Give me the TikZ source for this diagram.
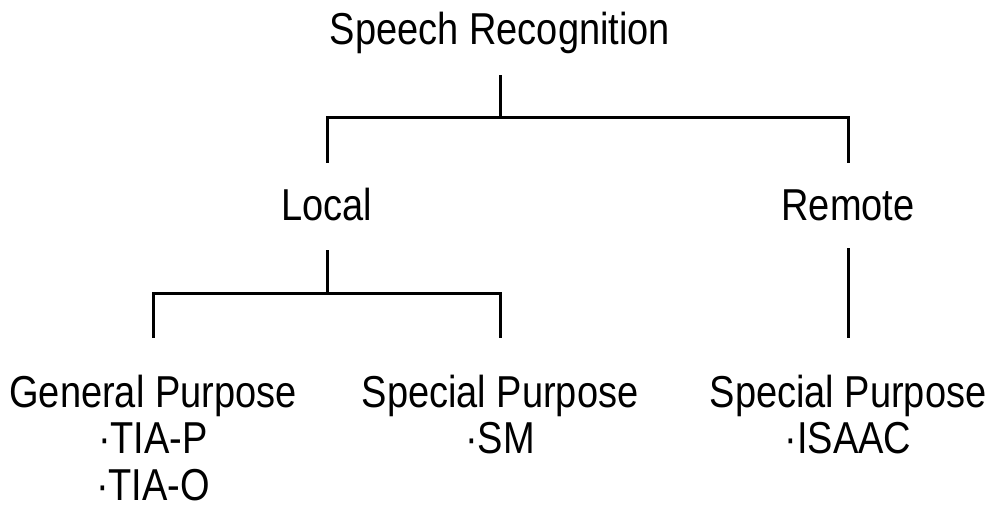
\documentclass[tikz,border=0pt]{standalone}
\usepackage{fontspec}
\setmainfont{Liberation Sans}[FakeStretch=0.85]
\begin{document}
\begin{tikzpicture}[x=1pt,y=-1pt,
  label/.style={anchor=base,inner sep=0pt,font=\fontsize{44.7}{46.5}\selectfont},
  link/.style={line width=3pt,line cap=rect}]
\useasboundingbox (0,0) rectangle (989,513);
% tree labels, placed on their baselines
\node[label] (root)   at (500,45)  {Speech Recognition};
\node[label] (local)  at (327,221) {Local};
\node[label] (remote) at (848,221) {Remote};
\node[label] (gp)     at (153,407) {General Purpose};
\node[label] (gp1)    at (153,453) {·TIA-P};
\node[label] (gp2)    at (153,500) {·TIA-O};
\node[label] (sp)     at (500,407) {Special Purpose};
\node[label] (sp1)    at (500,453) {·SM};
\node[label] (rsp)    at (848,407) {Special Purpose};
\node[label] (rsp1)   at (848,453) {·ISAAC};
% junction points of the bracket connectors
\coordinate (rootdown) at (500,77);
\coordinate (rootbar)  at (500,118);
\coordinate (localup)  at (327,162);
\coordinate (remoteup) at (848,162);
\coordinate (localdown) at (327,252);
\coordinate (localbar)  at (327,294);
\coordinate (gpup) at (153,337);
\coordinate (spup) at (500,337);
\coordinate (remotedown) at (848,250);
\coordinate (rspup) at (848,337);
% connectors
\draw[link] (rootdown) -- (rootbar);
\draw[link] (localup) |- (rootbar) -| (remoteup);
\draw[link] (localdown) -- (localbar);
\draw[link] (gpup) |- (localbar) -| (spup);
\draw[link] (remotedown) -- (rspup);
\end{tikzpicture}
\end{document}
